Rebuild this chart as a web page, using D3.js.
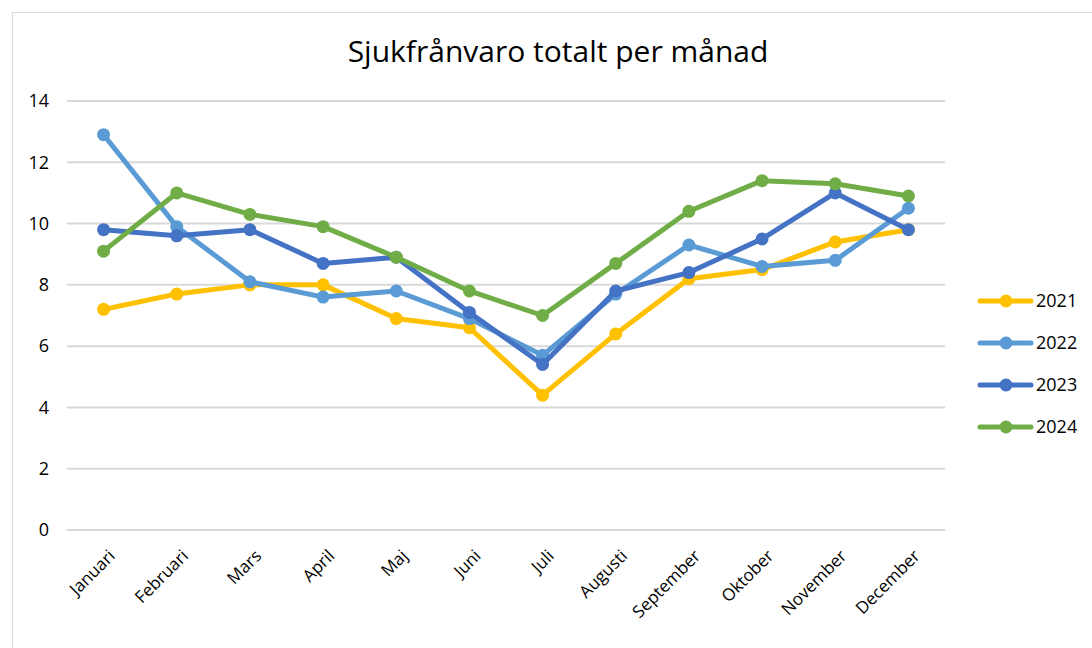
<html>
<head>
    <meta charset="utf-8">
    <title>Sjukfrånvaro</title>
    <style>
        body {
            padding: 0;
            margin: 0;
            background: white;
            font-family: "Open Sans", sans-serif;
        }
        .grid line {
            stroke: #d9d9d9;
            stroke-width: 2;
        }
    </style>
</head>
<body>
    <div id="chart"></div>

    <script src="https://d3js.org/d3.v7.min.js"></script>
    <script>
        var months = ["Januari", "Februari", "Mars", "April", "Maj", "Juni", "Juli",
            "Augusti", "September", "Oktober", "November", "December"];
        var years = ["2021", "2022", "2023", "2024"];
        var v2021 = [7.2, 7.7, 8.0, 8.0, 6.9, 6.6, 4.4, 6.4, 8.2, 8.5, 9.4, 9.8];
        var v2022 = [12.9, 9.9, 8.1, 7.6, 7.8, 6.9, 5.7, 7.7, 9.3, 8.6, 8.8, 10.5];
        var v2023 = [9.8, 9.6, 9.8, 8.7, 8.9, 7.1, 5.4, 7.8, 8.4, 9.5, 11.0, 9.8];
        var v2024 = [9.1, 11.0, 10.3, 9.9, 8.9, 7.8, 7.0, 8.7, 10.4, 11.4, 11.3, 10.9];
        var yTicks = [0, 2, 4, 6, 8, 10, 12, 14];
        var colors = ["#FFC000", "#5B9BD5", "#4472C4", "#70AD47"];

        var series = [v2021, v2022, v2023, v2024];

        var width = 1092, height = 648;
        var svg = d3.select("#chart").append("svg")
            .attr("width", width)
            .attr("height", height);

        // chart frame
        svg.append("rect")
            .attr("x", 12.5).attr("y", 12.5)
            .attr("width", width).attr("height", height)
            .attr("fill", "white")
            .attr("stroke", "#d9d9d9");

        svg.append("text")
            .attr("x", 558).attr("y", 62)
            .attr("text-anchor", "middle")
            .style("font-size", "30px")
            .attr("fill", "#000")
            .text("Sjukfrånvaro totalt per månad");

        var x = d3.scalePoint().domain(months).range([67, 945]).padding(0.5);
        var y = d3.scaleLinear().domain([0, 14]).range([530, 101]);

        svg.append("g").attr("class", "grid")
            .selectAll("line").data(yTicks).enter().append("line")
            .attr("x1", 67).attr("x2", 945)
            .attr("y1", d => y(d)).attr("y2", d => y(d));

        var yAxis = svg.append("g")
            .attr("transform", "translate(49,0)")
            .call(d3.axisLeft(y).tickValues(yTicks).tickSize(0).tickPadding(0));
        yAxis.select(".domain").remove();
        yAxis.selectAll("text")
            .style("font-size", "18px")
            .style("font-family", "Open Sans")
            .attr("fill", "#000");

        var xAxis = svg.append("g")
            .attr("transform", "translate(0,530)")
            .call(d3.axisBottom(x).tickSize(0));
        xAxis.select(".domain").remove();
        xAxis.selectAll("text")
            .style("font-size", "17px")
            .style("font-family", "Open Sans")
            .attr("fill", "#000")
            .attr("text-anchor", "end")
            .attr("x", 0).attr("y", 0)
            .attr("dx", 0).attr("dy", 0)
            .attr("transform", "translate(12,27) rotate(-45)");

        var line = d3.line()
            .x((d, i) => x(months[i]))
            .y(d => y(d));

        series.forEach(function (vals, k) {
            var g = svg.append("g");
            g.append("path")
                .datum(vals)
                .attr("d", line)
                .attr("fill", "none")
                .attr("stroke", colors[k])
                .attr("stroke-width", 5)
                .attr("stroke-linejoin", "round");
            g.selectAll("circle").data(vals).enter().append("circle")
                .attr("cx", (d, i) => x(months[i]))
                .attr("cy", d => y(d))
                .attr("r", 6.5)
                .attr("fill", colors[k]);
        });

        var legend = svg.append("g").selectAll("g").data(years).enter().append("g")
            .attr("transform", (d, i) => "translate(980," + (301 + i * 42) + ")");
        legend.append("line")
            .attr("x1", 0).attr("x2", 51)
            .attr("stroke", (d, i) => colors[i])
            .attr("stroke-width", 5)
            .attr("stroke-linecap", "round");
        legend.append("circle")
            .attr("cx", 26).attr("r", 6.5)
            .attr("fill", (d, i) => colors[i]);
        legend.append("text")
            .attr("x", 56).attr("dy", "0.36em")
            .style("font-size", "18px")
            .attr("fill", "#000")
            .text(d => d);
    </script>
</body>
</html>
